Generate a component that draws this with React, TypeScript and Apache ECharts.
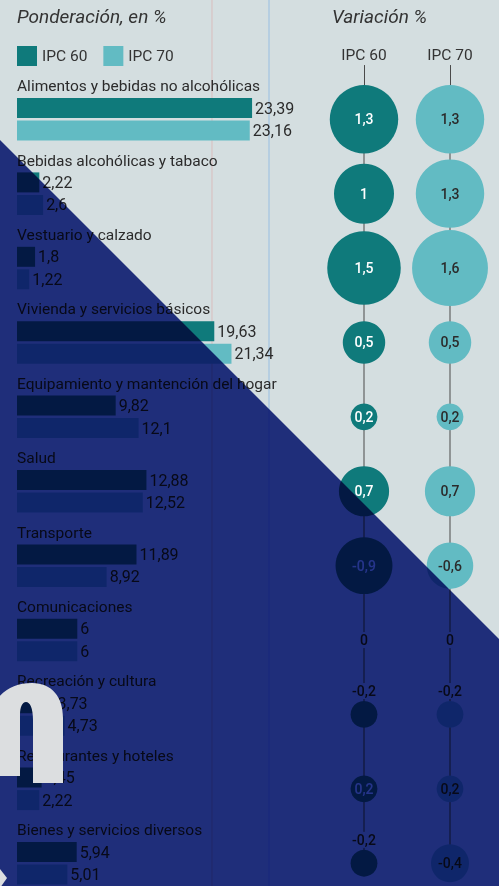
import React, { useEffect, useRef } from "react";
import * as echarts from "echarts";

const categories = [
  "Alimentos y bebidas no alcohólicas",
  "Bebidas alcohólicas y tabaco",
  "Vestuario y calzado",
  "Vivienda y servicios básicos",
  "Equipamiento y mantención del hogar",
  "Salud",
  "Transporte",
  "Comunicaciones",
  "Recreación y cultura",
  "Restaurantes y hoteles",
  "Bienes y servicios diversos",
];
const seriesNames = ["IPC 60", "IPC 70"];
const ponderacionIPC60 = [23.39, 2.22, 1.8, 19.63, 9.82, 12.88, 11.89, 6, 3.73, 2.45, 5.94];
const ponderacionIPC70 = [23.16, 2.6, 1.22, 21.34, 12.1, 12.52, 8.92, 6, 4.73, 2.22, 5.01];
const variacionIPC60 = [1.3, 1, 1.5, 0.5, 0.2, 0.7, -0.9, 0, -0.2, 0.2, -0.2];
const variacionIPC70 = [1.3, 1.3, 1.6, 0.5, 0.2, 0.7, -0.6, 0, -0.2, 0.2, -0.4];
const titles = ["Ponderación, en %", "Variación %"];

const DARK = "#0f7a7b";
const LIGHT = "#62bbc3";
const BG = "#d4dee0";
const TEXT = "#2b2b2b";
const FONT = "Roboto";
const CANVAS_H = 930;

const fmt = (v: number) => String(v).replace(".", ",");

const N_PATH =
  "M -6 776 L -6 704 C 2 690 15 683 32 683 C 52 683 63 697 63 718 L 63 783 L 33 783 L 33 720 C 33 708 30 702 26 702 C 22 702 20 708 20 714 L 20 776 Z";

export default function App() {
  const ref = useRef<HTMLDivElement>(null);
  useEffect(() => {
    if (!ref.current) return;
    const chart = echarts.init(ref.current, null, { renderer: "svg" });
    const bandTop = 82.05;
    const gridHeight = 74.4 * categories.length;

    const scatterSeries = (vals: number[], colIdx: number) => ({
      name: "Variación " + seriesNames[colIdx],
      type: "scatter",
      xAxisIndex: 1,
      yAxisIndex: 1,
      z: 4,
      itemStyle: { color: colIdx === 0 ? DARK : LIGHT, opacity: 1 },
      data: vals.map((v, i) => {
        const small = v < 0 && Math.abs(v) < 0.3;
        const zero = v === 0;
        const inside = !small && !zero;
        return {
          value: [seriesNames[colIdx], categories[i]],
          symbolSize: 60 * Math.sqrt(Math.abs(v)),
          label: {
            show: true,
            formatter: fmt(v),
            position: small ? "top" : "inside",
            distance: 2,
            fontFamily: FONT,
            fontSize: 14,
            fontWeight: 500,
            color: inside && colIdx === 0 ? "#ffffff" : TEXT,
            backgroundColor: inside ? "transparent" : BG,
            padding: inside ? 0 : [1, 2],
          },
        };
      }),
    });

    const lineSeries = (colIdx: number) => ({
      name: "línea " + seriesNames[colIdx],
      type: "line",
      xAxisIndex: 1,
      yAxisIndex: 1,
      z: 2,
      symbol: "none",
      silent: true,
      lineStyle: { color: "#4a4a4a", width: 1 },
      data: categories.map((c) => [seriesNames[colIdx], c]),
    });

    const barLabel = {
      show: true,
      position: "right",
      distance: 3,
      fontFamily: FONT,
      fontSize: 16,
      color: TEXT,
      formatter: (p: any) => fmt(p.value),
    };

    const titleStyle = { fontFamily: FONT, fontStyle: "italic", fontWeight: "normal", fontSize: 19, color: "#333" };

    chart.setOption({
      animation: false,
      backgroundColor: BG,
      textStyle: { fontFamily: FONT },
      title: [
        { text: titles[0], left: 17, top: 7, padding: 0, textStyle: titleStyle },
        { text: titles[1], left: 332, top: 7, padding: 0, textStyle: titleStyle },
      ],
      legend: {
        data: seriesNames,
        left: 17,
        top: 46,
        padding: 0,
        itemWidth: 20,
        itemHeight: 20,
        itemGap: 16,
        icon: "rect",
        textStyle: { fontFamily: FONT, fontSize: 15.5, color: "#333" },
      },
      grid: [
        { left: 17, top: bandTop, width: 402, height: gridHeight },
        { left: 321, top: bandTop, width: 172, height: gridHeight },
      ],
      xAxis: [
        { type: "value", gridIndex: 0, min: 0, max: 40, show: false },
        {
          type: "category",
          gridIndex: 1,
          position: "top",
          data: seriesNames,
          offset: -3,
          axisLine: { show: false },
          axisTick: { show: true, alignWithLabel: true, length: 20, lineStyle: { color: "#4a4a4a", width: 1 } },
          axisLabel: { fontFamily: FONT, fontSize: 15.5, color: "#333", margin: 22 },
          splitLine: { show: false },
        },
      ],
      yAxis: [
        {
          type: "category",
          gridIndex: 0,
          inverse: true,
          data: categories,
          axisLine: { show: false },
          axisTick: { show: false },
          axisLabel: {
            inside: true,
            margin: 0,
            align: "left",
            verticalAlign: "bottom",
            padding: [0, 0, 25, 0],
            fontFamily: FONT,
            fontSize: 15.5,
            color: TEXT,
          },
        },
        { type: "category", gridIndex: 1, inverse: true, data: categories, show: false },
      ],
      series: [
        {
          name: seriesNames[0],
          type: "bar",
          xAxisIndex: 0,
          yAxisIndex: 0,
          barWidth: 20,
          barGap: "12.5%",
          itemStyle: { color: DARK },
          label: barLabel,
          data: ponderacionIPC60,
        },
        {
          name: seriesNames[1],
          type: "bar",
          xAxisIndex: 0,
          yAxisIndex: 0,
          barWidth: 20,
          barGap: "12.5%",
          itemStyle: { color: LIGHT },
          label: barLabel,
          data: ponderacionIPC70,
        },
        lineSeries(0),
        lineSeries(1),
        scatterSeries(variacionIPC60, 0),
        scatterSeries(variacionIPC70, 1),
      ],
      graphic: [
        { type: "line", z: 0, silent: true, shape: { x1: 212, y1: 0, x2: 212, y2: CANVAS_H }, style: { stroke: "rgba(225,160,160,0.45)", lineWidth: 1.2 } },
        { type: "line", z: 0, silent: true, shape: { x1: 269, y1: 0, x2: 269, y2: CANVAS_H }, style: { stroke: "rgba(140,185,225,0.55)", lineWidth: 1.5 } },
      ],
    });
    return () => chart.dispose();
  }, []);
  return (
    <>
      <div
        ref={ref}
        style={{ position: "fixed", left: 0, top: 0, width: 499, height: CANVAS_H, background: BG }}
      />
      <div
        style={{
          position: "fixed",
          left: 0,
          top: 0,
          width: 499,
          height: 886,
          background: "#25348b",
          mixBlendMode: "multiply",
          clipPath: "polygon(0px 140px, 499px 639px, 499px 886px, 0px 886px)",
          pointerEvents: "none",
        }}
      />
      <svg
        width={499}
        height={886}
        style={{ position: "fixed", left: 0, top: 0, pointerEvents: "none" }}
      >
        <path d={N_PATH} fill="#dcdee0" />
        <polygon points="0,869 7,878 0,888" fill="#dcdee0" />
      </svg>
    </>
  );
}
